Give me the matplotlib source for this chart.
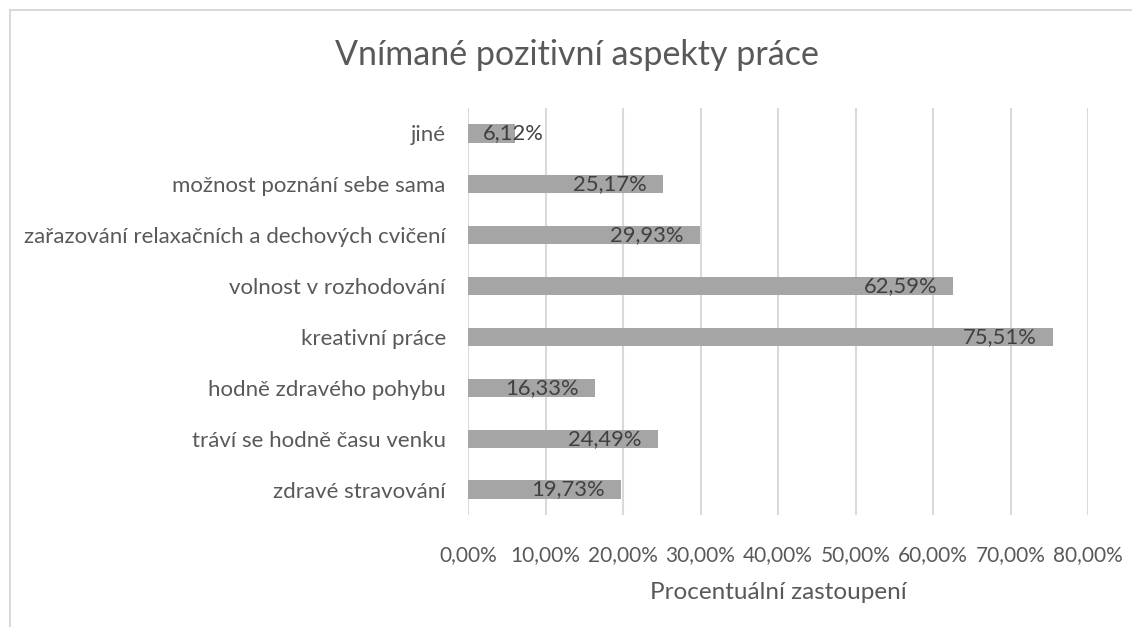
import matplotlib.pyplot as plt
from matplotlib.patches import Rectangle

plt.rcParams['font.family'] = ['Lato', 'DejaVu Sans']

# data (bottom to top, as drawn)
kategorie = ["zdravé stravování", "tráví se hodně času venku", "hodně zdravého pohybu",
             "kreativní práce", "volnost v rozhodování",
             "zařazování relaxačních a dechových cvičení", "možnost poznání sebe sama", "jiné"]
hodnoty = [19.73, 24.49, 16.33, 75.51, 62.59, 29.93, 25.17, 6.12]
ticky = [0, 10, 20, 30, 40, 50, 60, 70, 80]

txt = '#595959'
fig = plt.figure(figsize=(11.32, 6.27), dpi=100)
ax = fig.add_axes([468/1132, 1 - 515/627, 620/1132, 407/627])

y = range(len(kategorie))
ax.barh(y, hodnoty, height=0.36, color='#a5a5a5', zorder=3)

for i, v in enumerate(hodnoty):
    lab = ('%.2f%%' % v).replace('.', ',')
    if v < 10:
        ax.annotate(lab, (0, i), xytext=(11, 0), textcoords='offset points',
                    ha='left', va='center', fontsize=15.8, color='#404040', zorder=4)
    else:
        ax.annotate(lab, (v, i), xytext=(-11.5, 0), textcoords='offset points',
                    ha='right', va='center', fontsize=15.8, color='#404040', zorder=4)

ax.set_xlim(0, 80)
ax.set_ylim(-0.5, len(kategorie) - 0.5)
ax.set_xticks(ticky)
ax.set_xticklabels([('%.2f%%' % t).replace('.', ',') for t in ticky])
ax.set_yticks(list(y))
ax.set_yticklabels(kategorie)
ax.tick_params(axis='x', length=0, pad=22, labelsize=15, labelcolor=txt)
ax.tick_params(axis='y', length=0, pad=16, labelsize=16, labelcolor=txt)
ax.grid(axis='x', color='#d9d9d9', linewidth=1.5, zorder=0)
for s in ax.spines.values():
    s.set_visible(False)

ax.set_xlabel('Procentuální zastoupení', fontsize=17.5, color=txt, labelpad=12)
fig.text(577/1132, 1 - 55/627, 'Vnímané pozitivní aspekty práce', ha='center', va='center',
         fontsize=24.5, color=txt)

# chart border
fig.patches.append(Rectangle((10/1132, -0.1), 1.2, 1.1 - 10/627, transform=fig.transFigure,
                             fill=False, edgecolor='#d9d9d9', linewidth=1.5))

fig.savefig('out.png', dpi=100)
